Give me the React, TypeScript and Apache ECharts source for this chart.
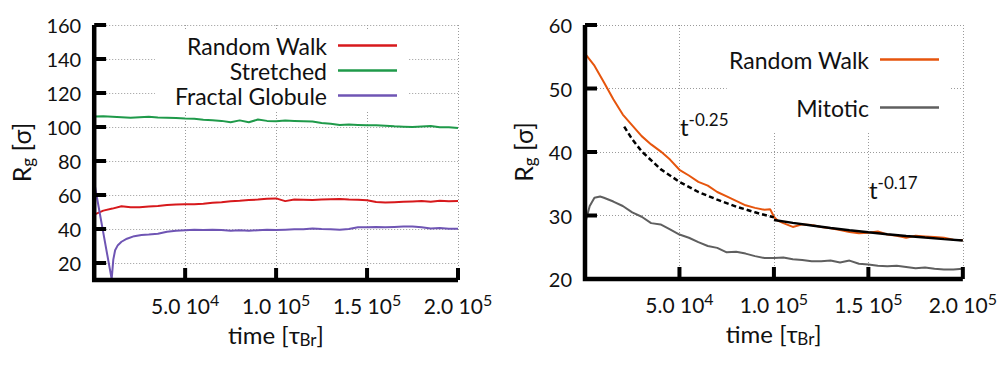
import React, { useEffect, useRef } from 'react';
import * as echarts from 'echarts';

const FONT = 'Lato, sans-serif';
const TXT = '#111111';

// ---------- Left panel data ----------
const leftTime = [0, 5000, 10000, 15000, 20000, 25000, 30000, 35000, 40000, 45000, 50000, 55000, 60000, 65000, 70000, 75000, 80000, 85000, 90000, 95000, 100000, 105000, 110000, 115000, 120000, 125000, 130000, 135000, 140000, 145000, 150000, 155000, 160000, 165000, 170000, 175000, 180000, 185000, 190000, 195000, 200000];
const randomWalkLeft = [48.5, 50.8, 52.0, 53.4, 52.8, 52.8, 53.2, 53.6, 54.1, 54.4, 54.6, 54.5, 54.8, 55.4, 55.8, 56.3, 56.6, 57.0, 57.3, 57.8, 58.0, 56.4, 57.3, 57.2, 57.1, 57.3, 57.5, 57.6, 57.3, 57.2, 56.9, 55.9, 55.6, 55.8, 56.0, 56.2, 56.4, 56.0, 56.6, 56.3, 56.4];
const stretched = [106.2, 106.3, 106.1, 105.8, 105.4, 105.7, 106.0, 105.6, 105.5, 105.3, 105.0, 104.8, 104.2, 104.0, 103.6, 102.8, 103.9, 102.8, 104.4, 103.6, 103.4, 103.8, 103.6, 103.4, 103.2, 102.4, 101.9, 101.2, 101.4, 101.2, 101.0, 101.1, 100.8, 100.4, 100.2, 100.0, 100.3, 100.6, 99.9, 99.8, 99.4];
const fractalTime = [0, 9600, 10500, 11500, 13000, 15000, 18000, 22000, 26000, 30000, 35000, 40000, 45000, 50000, 55000, 60000, 65000, 70000, 75000, 80000, 85000, 90000, 95000, 100000, 105000, 110000, 115000, 120000, 125000, 130000, 135000, 140000, 145000, 150000, 155000, 160000, 165000, 170000, 175000, 180000, 185000, 190000, 195000, 200000];
const fractalGlobule = [67.5, 10.5, 22.0, 27.5, 30.5, 32.5, 34.3, 35.8, 36.5, 36.8, 37.2, 38.4, 38.9, 39.3, 39.5, 39.4, 39.6, 39.4, 39.0, 39.2, 39.0, 39.3, 39.5, 39.4, 39.6, 39.8, 39.9, 40.3, 40.0, 39.8, 39.5, 40.0, 41.0, 41.0, 41.2, 41.0, 41.2, 41.4, 41.5, 41.0, 40.3, 40.6, 40.2, 40.2];

// ---------- Right panel data ----------
const rwTime = [0, 5000, 10000, 15000, 20000, 25000, 30000, 35000, 40000, 45000, 50000, 55000, 60000, 65000, 70000, 75000, 80000, 85000, 90000, 95000, 98000, 100000, 102000, 105000, 110000, 115000, 120000, 125000, 130000, 135000, 140000, 145000, 150000, 155000, 160000, 165000, 170000, 175000, 180000, 185000, 190000, 195000, 200000];
const randomWalkRight = [55.5, 53.6, 51.0, 48.3, 45.9, 44.2, 42.5, 41.2, 40.1, 38.8, 37.2, 36.3, 35.3, 34.7, 33.7, 33.0, 32.3, 31.6, 31.2, 30.9, 31.0, 29.8, 29.2, 28.8, 28.2, 28.6, 28.5, 28.2, 28.0, 27.7, 27.4, 27.2, 27.3, 27.5, 27.0, 26.8, 26.5, 26.8, 26.7, 26.6, 26.5, 26.2, 26.1];
const mitoticTime = [0, 2500, 5000, 8000, 10000, 15000, 20000, 25000, 30000, 35000, 40000, 45000, 50000, 55000, 60000, 65000, 70000, 75000, 80000, 85000, 90000, 95000, 100000, 105000, 110000, 115000, 120000, 125000, 130000, 135000, 140000, 145000, 150000, 155000, 160000, 165000, 170000, 175000, 180000, 185000, 190000, 195000, 200000];
const mitotic = [28.7, 31.5, 32.8, 33.0, 32.8, 32.2, 31.5, 30.5, 29.8, 28.8, 28.6, 27.8, 27.0, 26.5, 25.8, 25.2, 24.9, 24.2, 24.3, 24.0, 23.6, 23.3, 23.3, 23.4, 23.1, 23.0, 22.8, 22.8, 22.9, 22.6, 22.9, 22.4, 22.3, 22.1, 22.0, 22.1, 21.9, 21.7, 21.8, 21.6, 21.5, 21.5, 21.6];
const fit025Time = [20750, 25000, 30000, 40000, 50000, 60000, 70000, 80000, 90000, 100000];
const fit025 = [44.0, 42.0, 40.1, 37.3, 35.3, 33.7, 32.5, 31.4, 30.5, 29.7];
const fit017Time = [100000, 110000, 120000, 130000, 140000, 150000, 160000, 170000, 180000, 190000, 200000];
const fit017 = [29.3, 28.84, 28.41, 28.03, 27.68, 27.36, 27.06, 26.78, 26.52, 26.28, 26.05];

// ---------- Ticks ----------
const xTickValues = [50000, 100000, 150000, 200000];
const xTickMantissa = ['5.0', '1.0', '1.5', '2.0'];
const xTickExponent = ['4', '5', '5', '5'];
const leftYTicks = [20, 40, 60, 80, 100, 120, 140, 160];
const rightYTicks = [20, 30, 40, 50, 60];

const zip = (t: number[], v: number[]) => t.map((x, i) => [x, v[i]]);

const W = 500;
const H = 371;
const TICK_PX = 12;

const mkGridLine = () => ({ show: true, lineStyle: { color: '#9a9a9a', width: 1, type: [1, 2] } });

function xAxisCfg() {
  return {
    type: 'value',
    min: 0,
    max: 200000,
    interval: 50000,
    axisLine: { show: false },
    axisTick: { show: false },
    splitLine: mkGridLine(),
    axisLabel: {
      show: true,
      margin: 11,
      showMinLabel: false,
      formatter: (v: number) => {
        const i = xTickValues.indexOf(v);
        return i < 0 ? '' : `{b|${xTickMantissa[i]} 10}{s|${xTickExponent[i]}}`;
      },
      rich: {
        b: { fontFamily: FONT, fontSize: 21, color: TXT, lineHeight: 25, verticalAlign: 'bottom' },
        s: { fontFamily: FONT, fontSize: 16, color: TXT, lineHeight: 25, verticalAlign: 'top' },
      },
    },
    name: '{a|time [τ}{b|Br}{a|]}',
    nameLocation: 'middle',
    nameGap: 40,
    nameTextStyle: {
      rich: {
        a: { fontFamily: FONT, fontSize: 24, color: TXT, lineHeight: 28, verticalAlign: 'middle' },
        b: { fontFamily: FONT, fontSize: 17, color: TXT, lineHeight: 28, verticalAlign: 'bottom' },
      },
    },
  };
}

function yAxisCfg(min: number, max: number, ticks: number[], nameGap: number) {
  return {
    type: 'value',
    min,
    max,
    axisLine: { show: false },
    axisTick: { show: false, customValues: ticks },
    splitLine: mkGridLine(),
    axisLabel: { show: true, margin: 13, customValues: ticks, fontFamily: FONT, fontSize: 20, color: TXT },
    name: '{a|R}{g|g}{a| [σ]}',
    nameLocation: 'middle',
    nameGap,
    nameTextStyle: {
      rich: {
        a: { fontFamily: FONT, fontSize: 25, color: TXT, lineHeight: 30, verticalAlign: 'middle' },
        g: { fontFamily: FONT, fontSize: 17, color: TXT, lineHeight: 30, verticalAlign: 'bottom' },
      },
    },
  };
}

function lineSeries(name: string, data: any[], color: string, extra: any = {}) {
  return {
    type: 'line',
    name,
    data,
    showSymbol: false,
    symbol: 'none',
    lineStyle: { color, width: 2, ...(extra.lineStyle || {}) },
    itemStyle: { color },
    ...(extra.series || {}),
  };
}

// Axis frame (thick black L) and inward ticks, drawn as line series through the axis scales.
function frameSeries(grid: any, xMin: number, xMax: number, yMin: number, yMax: number, xTicks: number[], yTicks: number[]) {
  const plotW = W - grid.left - grid.right;
  const plotH = H - grid.top - grid.bottom;
  const tx = (TICK_PX * (xMax - xMin)) / plotW;
  const ty = (TICK_PX * (yMax - yMin)) / plotH;
  const common = { series: { clip: false, silent: true, z: 5, legendHoverLink: false } };
  const out: any[] = [];
  out.push(lineSeries('axis-frame', [[xMin, yMax], [xMin, yMin], [xMax, yMin]], '#000000', { lineStyle: { width: 4.5, join: 'miter' }, ...common }));
  xTicks.forEach((v, i) => {
    out.push(lineSeries('x-tick-' + i, [[v, yMin], [v, yMin + ty]], '#000000', { lineStyle: { width: 4 }, ...common }));
  });
  yTicks.forEach((v, i) => {
    out.push(lineSeries('y-tick-' + i, [[xMin, v], [xMin + tx, v]], '#000000', { lineStyle: { width: 4 }, ...common }));
  });
  return out;
}

function legendCfg(names: string[], right: number, top: number, gap: number, padding: number[]) {
  return {
    data: names,
    orient: 'vertical',
    align: 'right',
    right,
    top,
    icon: 'rect',
    itemGap: gap,
    itemWidth: 59,
    itemHeight: 2.5,
    padding,
    backgroundColor: '#ffffff',
    textStyle: { fontFamily: FONT, fontSize: 23, color: TXT, lineHeight: 22, padding: [0, 6, 1, 0] },
    selectedMode: false,
  };
}

const annot = (left: number, top: number, exp: string) => ({
  type: 'text',
  left,
  top,
  z: 50,
  style: {
    text: `{t|t}{s|${exp}}`,
    rich: {
      t: { fontFamily: FONT, fontSize: 24, fill: TXT, lineHeight: 27, verticalAlign: 'bottom' },
      s: { fontFamily: FONT, fontSize: 17, fill: TXT, lineHeight: 27, verticalAlign: 'top' },
    },
  },
});

const leftGrid = { left: 91, right: 42, top: 25, bottom: 91 };
const rightGrid = { left: 85, right: 37, top: 25, bottom: 92 };

function leftOption() {
  return {
    animation: false,
    grid: leftGrid,
    legend: legendCfg(['Random Walk', 'Stretched', 'Fractal Globule'], 92, 30, 2, [4, 11, 3, 20]),
    xAxis: xAxisCfg(),
    yAxis: yAxisCfg(10, 160, leftYTicks, 52),
    series: [
      lineSeries('Random Walk', zip(leftTime, randomWalkLeft), '#d7191c'),
      lineSeries('Stretched', zip(leftTime, stretched), '#1f9a4a'),
      lineSeries('Fractal Globule', zip(fractalTime, fractalGlobule), '#6f55b4'),
      ...frameSeries(leftGrid, 0, 200000, 10, 160, xTickValues, leftYTicks),
    ],
  };
}

function rightOption() {
  return {
    animation: false,
    grid: rightGrid,
    legend: legendCfg(['Random Walk', 'Mitotic'], 50, 28, 25, [20, 11, 12, 2]),
    xAxis: xAxisCfg(),
    yAxis: yAxisCfg(20, 60, rightYTicks, 38),
    graphic: [annot(180, 111, '-0.25'), annot(369, 174, '-0.17')],
    series: [
      lineSeries('Mitotic', zip(mitoticTime, mitotic), '#5f5f5f'),
      lineSeries('Random Walk', zip(rwTime, randomWalkRight), '#e6550d'),
      lineSeries('fit t^-0.25', zip(fit025Time, fit025), '#000', { lineStyle: { type: [5, 3], width: 2.5 } }),
      lineSeries('fit t^-0.17', zip(fit017Time, fit017), '#000', { lineStyle: { width: 2.5 } }),
      ...frameSeries(rightGrid, 0, 200000, 20, 60, xTickValues, rightYTicks),
    ],
  };
}

export default function App() {
  const leftRef = useRef<HTMLDivElement>(null);
  const rightRef = useRef<HTMLDivElement>(null);
  useEffect(() => {
    document.body.style.margin = '0';
    const c1 = echarts.init(leftRef.current as HTMLDivElement, null, { renderer: 'svg' });
    c1.setOption(leftOption() as any);
    const c2 = echarts.init(rightRef.current as HTMLDivElement, null, { renderer: 'svg' });
    c2.setOption(rightOption() as any);
    return () => {
      c1.dispose();
      c2.dispose();
    };
  }, []);
  return (
    <div style={{ display: 'flex', width: 1000, height: 371, background: '#fff' }}>
      <div ref={leftRef} style={{ width: W, height: H }} />
      <div ref={rightRef} style={{ width: W, height: H }} />
    </div>
  );
}
